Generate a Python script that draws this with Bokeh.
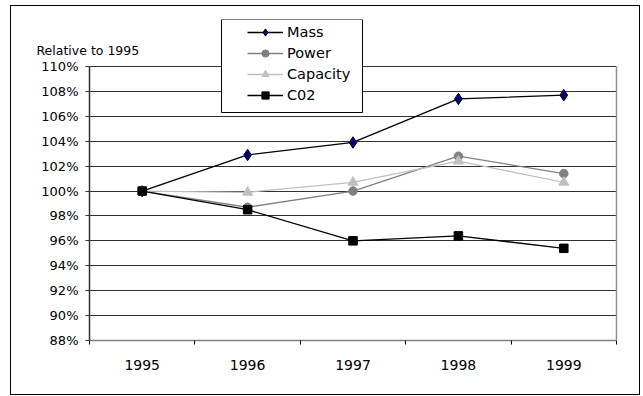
from bokeh.plotting import figure
from bokeh.models import (Range1d, FixedTicker, NumeralTickFormatter, Label,
                          BoxAnnotation, LinearAxis, InlineStyleSheet)
from bokeh.embed import file_html
from bokeh.resources import INLINE

# ---- data ----
years = [1995, 1996, 1997, 1998, 1999]
mass = [1.000, 1.029, 1.039, 1.074, 1.077]
power = [1.000, 0.987, 1.000, 1.028, 1.014]
capacity = [1.000, 0.999, 1.007, 1.024, 1.007]
co2 = [1.000, 0.985, 0.960, 0.964, 0.954]
y_ticks = [0.88, 0.90, 0.92, 0.94, 0.96, 0.98, 1.00, 1.02, 1.04, 1.06, 1.08, 1.10]
y_title = "Relative to 1995"

FONT = "DejaVu Sans"

# frame spans 19..340 px vertically; 88%..110% occupies the lower 274 px
y_top = y_ticks[0] + (y_ticks[-1] - y_ticks[0]) * 321.0 / 274.0

p = figure(width=643, height=396, output_backend="svg", toolbar_location=None,
           x_range=Range1d(years[0] - 0.5, years[-1] + 0.5),
           y_range=Range1d(y_ticks[0], y_top),
           min_border=0, min_border_left=89, min_border_right=27,
           min_border_top=19, min_border_bottom=56)
p.background_fill_color = "white"
p.border_fill_color = "white"
p.outline_line_color = None
p.stylesheets = [InlineStyleSheet(css="""
:host::after {
  content: "";
  position: absolute;
  left: 10px; top: 5px; width: 630px; height: 390px;
  border: 1.5px solid black;
  box-sizing: border-box;
  pointer-events: none;
}
""")]

# grid
p.xgrid.grid_line_color = None
p.ygrid.ticker = FixedTicker(ticks=y_ticks)
p.ygrid.grid_line_color = "#303030"
p.ygrid.grid_line_width = 1

# y axis
p.yaxis.bounds = (y_ticks[0], y_ticks[-1])
p.yaxis.ticker = FixedTicker(ticks=y_ticks)
p.yaxis.formatter = NumeralTickFormatter(format="0%")
p.yaxis.axis_line_color = "#303030"
p.yaxis.axis_line_width = 1.5
p.yaxis.major_tick_out = 4
p.yaxis.major_tick_in = 0
p.yaxis.minor_tick_line_color = None
p.yaxis.major_tick_line_color = "#303030"
p.yaxis.major_label_text_font = FONT
p.yaxis.major_label_text_font_size = "13px"
p.yaxis.major_label_text_color = "black"
p.yaxis.major_label_standoff = 7

# right border of the plot area (axis without ticks)
right_axis = LinearAxis(bounds=(y_ticks[0], y_ticks[-1]),
                        ticker=FixedTicker(ticks=[]),
                        axis_line_color="#909090", axis_line_width=1.5,
                        major_tick_line_color=None, minor_tick_line_color=None,
                        major_label_text_font_size="0px")
p.add_layout(right_axis, "right")

# x axis
boundaries = [y - 0.5 for y in years] + [years[-1] + 0.5]
p.xaxis.ticker = FixedTicker(ticks=years, minor_ticks=boundaries)
p.xaxis.axis_line_color = "#808080"
p.xaxis.axis_line_width = 1.5
p.xaxis.major_tick_line_color = None
p.xaxis.minor_tick_line_color = "black"
p.xaxis.minor_tick_out = 4
p.xaxis.minor_tick_in = 0
p.xaxis.major_label_text_font = FONT
p.xaxis.major_label_text_font_size = "14px"
p.xaxis.major_label_text_color = "black"
p.xaxis.major_label_standoff = 13

# series
p.line(years, mass, line_color="black", line_width=1.3, legend_label="Mass")
p.scatter(years, mass, marker="diamond", size=11.5, fill_color="#000080",
          line_color="black", line_width=1, legend_label="Mass")

p.line(years, power, line_color="#808080", line_width=1.3, legend_label="Power")
p.scatter(years, power, marker="circle", size=8.5, fill_color="#808080",
          line_color="#808080", legend_label="Power")

p.line(years, capacity, line_color="#C0C0C0", line_width=1.3, legend_label="Capacity")
p.scatter(years, capacity, marker="triangle", size=10, fill_color="#C0C0C0",
          line_color="#C0C0C0", legend_label="Capacity")

p.line(years, co2, line_color="black", line_width=1.3, legend_label="C02")
p.scatter(years, co2, marker="square", size=8.5, fill_color="black",
          line_color="black", legend_label="C02")

# legend box and legend
box = BoxAnnotation(left=132, right=273, top=321, bottom=228,
                    left_units="screen", right_units="screen",
                    top_units="screen", bottom_units="screen",
                    fill_color="white", fill_alpha=1.0,
                    line_color="black", line_width=1, line_alpha=1.0)
leg = p.legend[0]
p.center.remove(leg)
p.add_layout(box)
p.add_layout(leg)
leg.location = (158, 236)
leg.border_line_color = None
leg.background_fill_alpha = 0
leg.padding = 0
leg.margin = 0
leg.spacing = 3
leg.glyph_width = 36
leg.glyph_height = 18
leg.label_height = 18
leg.label_standoff = 4
leg.label_text_font = FONT
leg.label_text_font_size = "14.5px"
leg.label_text_color = "black"

# axis title label (in the top panel, so it is not clipped by the plot area)
p.add_layout(Label(x=-53, y=-31, x_units="screen", y_units="screen",
                   text=y_title, text_font=FONT, text_font_size="12.5px",
                   text_color="black", text_baseline="alphabetic"), "above")

open("out.html", "w").write(file_html(p, INLINE))
